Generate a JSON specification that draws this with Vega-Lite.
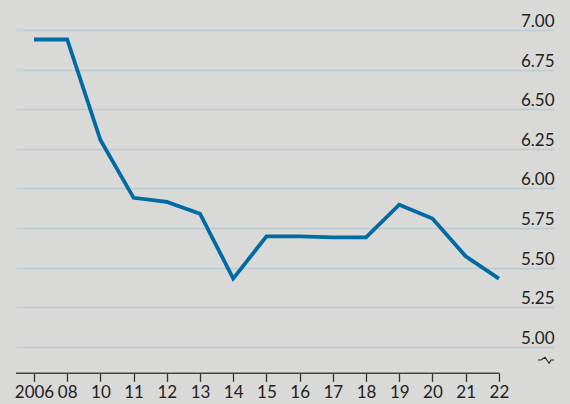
{
  "$schema": "https://vega.github.io/schema/vega-lite/v6.json",
  "width": 538,
  "height": 343.3,
  "autosize": "none",
  "padding": {"left": 16, "top": 30, "right": 16, "bottom": 30.7},
  "background": "#d9d9d7",
  "config": {
    "view": {"stroke": null},
    "font": "Lato",
    "axis": {"labelFont": "Lato", "labelFontSize": 17, "labelColor": "#222222"}
  },
  "datasets": {
    "series": [
      {"x": 0, "year": "2006", "y": 6.94},
      {"x": 1, "year": "08", "y": 6.94},
      {"x": 2, "year": "10", "y": 6.305},
      {"x": 3, "year": "11", "y": 5.94},
      {"x": 4, "year": "12", "y": 5.914},
      {"x": 5, "year": "13", "y": 5.84},
      {"x": 6, "year": "14", "y": 5.43},
      {"x": 7, "year": "15", "y": 5.697},
      {"x": 8, "year": "16", "y": 5.697},
      {"x": 9, "year": "17", "y": 5.69},
      {"x": 10, "year": "18", "y": 5.69},
      {"x": 11, "year": "19", "y": 5.897},
      {"x": 12, "year": "20", "y": 5.809},
      {"x": 13, "year": "21", "y": 5.571},
      {"x": 14, "year": "22", "y": 5.43}
    ],
    "brk": [
      {"x": 15.18, "y": 4.916, "k": 0},
      {"x": 15.27, "y": 4.916, "k": 1},
      {"x": 15.39, "y": 4.933, "k": 2},
      {"x": 15.51, "y": 4.895, "k": 3},
      {"x": 15.57, "y": 4.916, "k": 4},
      {"x": 15.66, "y": 4.916, "k": 5}
    ],
    "base": [{"x": -0.542, "x1": 14.02, "y": 4.832}]
  },
  "encoding": {
    "x": {
      "field": "x", "type": "quantitative",
      "scale": {"domain": [-0.542, 15.66], "nice": false, "zero": false},
      "axis": {
        "title": null, "domain": false, "grid": false,
        "values": [0,1,2,3,4,5,6,7,8,9,10,11,12,13,14],
        "labelExpr": "['2006','08','10','11','12','13','14','15','16','17','18','19','20','21','22'][datum.value]",
        "ticks": true, "tickColor": "#333333", "tickSize": 8, "tickWidth": 1.3,
        "labelPadding": 3, "labelFlush": false, "labelOverlap": false
      }
    },
    "y": {
      "field": "y", "type": "quantitative",
      "scale": {"domain": [4.832, 7.0], "nice": false, "zero": false},
      "axis": {
        "title": null, "orient": "right", "domain": false, "ticks": false,
        "grid": true, "gridColor": "#bccad2", "gridWidth": 1.3,
        "values": [5, 5.25, 5.5, 5.75, 6, 6.25, 6.5, 6.75, 7],
        "format": ".2f",
        "labelAlign": "right", "labelBaseline": "alphabetic", "labelPadding": 0,
        "labelOffset": -3.5, "labelFlush": false, "labelOverlap": false
      }
    }
  },
  "layer": [
    {
      "data": {"name": "base"},
      "mark": {"type": "rule", "color": "#444444", "strokeWidth": 1.6},
      "encoding": {"x2": {"field": "x1"}}
    },
    {
      "data": {"name": "series"},
      "mark": {"type": "line", "color": "#006ba2", "strokeWidth": 3.8, "strokeCap": "butt", "strokeJoin": "miter"},
      "encoding": {}
    },
    {
      "data": {"name": "brk"},
      "mark": {"type": "line", "color": "#222222", "strokeWidth": 1.1},
      "encoding": {"order": {"field": "k"}}
    }
  ]
}
